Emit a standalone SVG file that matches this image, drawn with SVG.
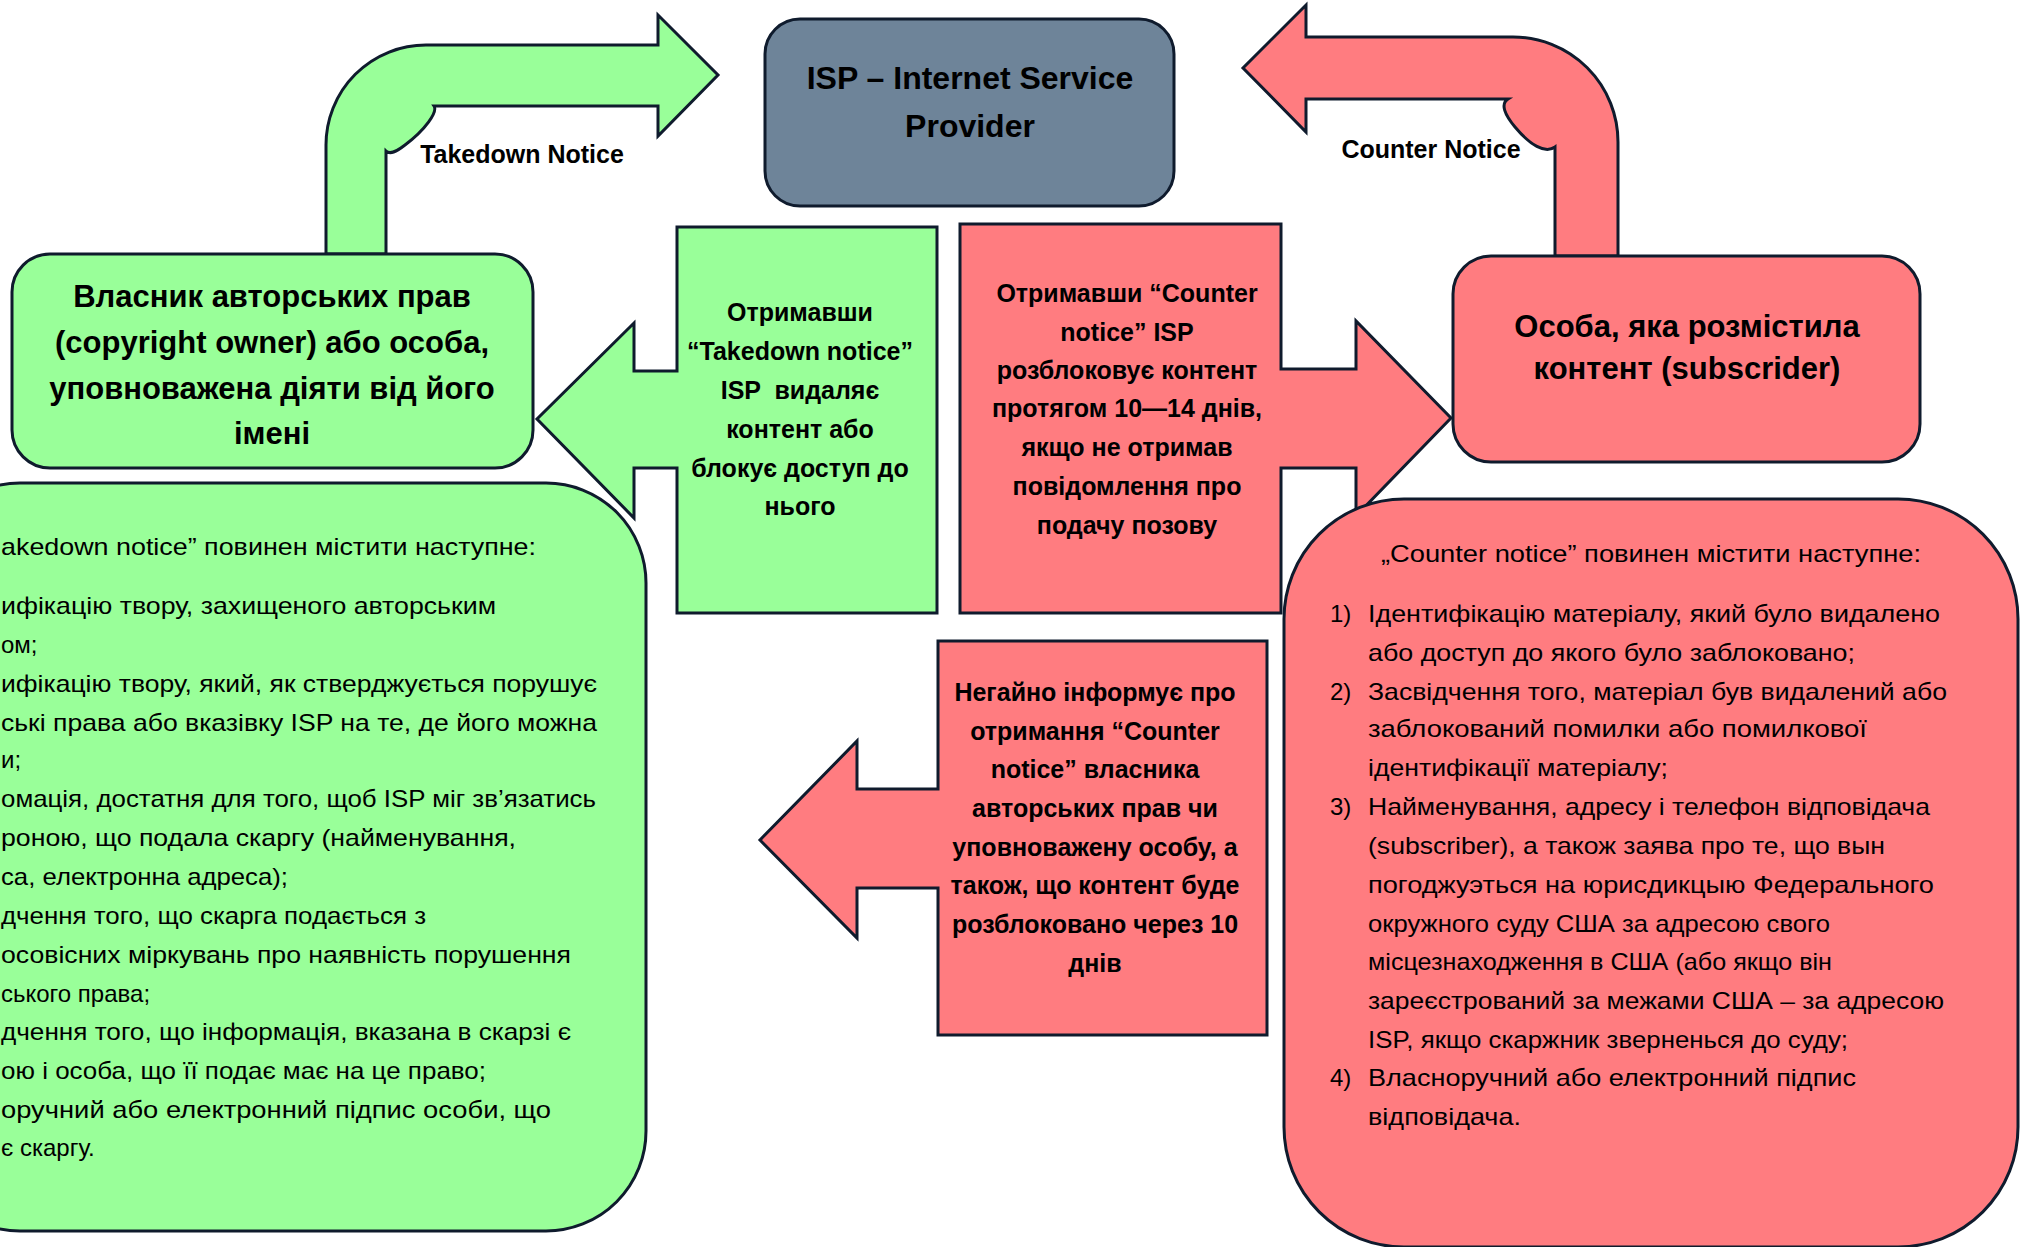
<svg xmlns="http://www.w3.org/2000/svg" width="2031" height="1247" viewBox="0 0 2031 1247">
<style>
.g{fill:#99FF99;stroke:#0f1b2d;stroke-width:3;stroke-linejoin:miter}
.r{fill:#FF7C80;stroke:#0f1b2d;stroke-width:3;stroke-linejoin:miter}
.s{fill:#6E8499;stroke:#0f1b2d;stroke-width:3}
text{font-family:"Liberation Sans",Arial,"DejaVu Sans",sans-serif;fill:#000}
.b{font-weight:bold;text-anchor:middle}
.b25{font-size:25px}
.b31{font-size:31px}
.t{font-size:24px}
</style>
<rect width="2031" height="1247" fill="#ffffff"/>

<g id="connectors">
<path id="takedown-arrow" class="g" d="M326,254 L326,145 A100,100 0 0 1 426,45 L658,45 L658,15 L718,75 L658,136 L658,106 L434,106 C438,112 425,130 405,145 C396,152 390,155 386,151 L386,254 Z"/>
<text class="b b25" x="522" y="163">Takedown Notice</text>
<path id="counter-arrow" class="r" d="M1555,256 L1555,147 C1545,154 1530,145 1515,127 C1505,115 1500,104 1508,99 L1306,99 L1306,132 L1243,68 L1306,5 L1306,37 L1513,37 A105,105 0 0 1 1618,142 L1618,256 Z"/>
<text class="b b25" x="1431" y="158">Counter Notice</text>
</g>

<g id="isp">
<rect class="s" x="765" y="19" width="409" height="187" rx="35"/>
<text class="b" font-size="32" x="970" y="89">ISP – Internet Service</text>
<text class="b" font-size="32" x="970" y="137">Provider</text>
</g>

<g id="owner">
<rect class="g" x="12" y="254" width="521" height="214" rx="38"/>
<text class="b b31" x="272" y="307">Власник авторських прав</text>
<text class="b b31" x="272" y="353">(copyright owner) або особа,</text>
<text class="b b31" x="272" y="399">уповноважена діяти від його</text>
<text class="b b31" x="272" y="444">імені</text>
</g>

<g id="takedown-requirements">
<rect class="g" x="-80" y="483" width="726" height="748" rx="100"/>
<text class="t" x="1" y="555" textLength="535" lengthAdjust="spacingAndGlyphs">akedown notice” повинен містити наступне:</text>
<text class="t" x="1" y="614" textLength="495" lengthAdjust="spacingAndGlyphs">ифікацію твору, захищеного авторським</text>
<text class="t" x="1" y="653">ом;</text>
<text class="t" x="1" y="692" textLength="596" lengthAdjust="spacingAndGlyphs">ифікацію твору, який, як стверджується порушує</text>
<text class="t" x="1" y="731" textLength="596" lengthAdjust="spacingAndGlyphs">ські права або вказівку ISP на те, де його можна</text>
<text class="t" x="1" y="768">и;</text>
<text class="t" x="1" y="807" textLength="595" lengthAdjust="spacingAndGlyphs">омація, достатня для того, щоб ISP міг зв’язатись</text>
<text class="t" x="1" y="846" textLength="515" lengthAdjust="spacingAndGlyphs">роною, що подала скаргу (найменування,</text>
<text class="t" x="1" y="885" textLength="287" lengthAdjust="spacingAndGlyphs">са, електронна адреса);</text>
<text class="t" x="1" y="924" textLength="425" lengthAdjust="spacingAndGlyphs">дчення того, що скарга подається з</text>
<text class="t" x="1" y="963" textLength="570" lengthAdjust="spacingAndGlyphs">осовісних міркувань про наявність порушення</text>
<text class="t" x="1" y="1002">ського права;</text>
<text class="t" x="1" y="1040" textLength="570" lengthAdjust="spacingAndGlyphs">дчення того, що інформація, вказана в скарзі є</text>
<text class="t" x="1" y="1079" textLength="485" lengthAdjust="spacingAndGlyphs">ою і особа, що її подає має на це право;</text>
<text class="t" x="1" y="1118" textLength="550" lengthAdjust="spacingAndGlyphs">оручний або електронний підпис особи, що</text>
<text class="t" x="1" y="1156">є скаргу.</text>
</g>

<g id="isp-removes">
<path class="g" d="M677,227 L937,227 L937,613 L677,613 L677,468 L634,468 L634,518 L537,419 L634,323 L634,371 L677,371 Z"/>
<text class="b b25" x="800" y="321">Отримавши</text>
<text class="b b25" x="800" y="360">“Takedown notice”</text>
<text class="b b25" x="800" y="399" xml:space="preserve">ISP  видаляє</text>
<text class="b b25" x="800" y="438">контент або</text>
<text class="b b25" x="800" y="477">блокує доступ до</text>
<text class="b b25" x="800" y="515">нього</text>
</g>

<g id="isp-restores">
<path class="r" d="M960,224 L1281,224 L1281,369 L1356,369 L1356,321 L1451,418 L1356,516 L1356,468 L1281,468 L1281,613 L960,613 Z"/>
<text class="b b25" x="1127" y="302">Отримавши “Counter</text>
<text class="b b25" x="1127" y="341">notice” ISP</text>
<text class="b b25" x="1127" y="379">розблоковує контент</text>
<text class="b b25" x="1127" y="417">протягом 10—14 днів,</text>
<text class="b b25" x="1127" y="456">якщо не отримав</text>
<text class="b b25" x="1127" y="495">повідомлення про</text>
<text class="b b25" x="1127" y="534">подачу позову</text>
</g>

<g id="subscriber">
<rect class="r" x="1453" y="256" width="467" height="206" rx="38"/>
<text class="b b31" x="1687" y="337">Особа, яка розмістила</text>
<text class="b b31" x="1687" y="379">контент (subscrider)</text>
</g>

<g id="counter-requirements">
<rect class="r" x="1284" y="499" width="734" height="748" rx="120"/>
<text class="t" x="1651" y="562" text-anchor="middle" textLength="540" lengthAdjust="spacingAndGlyphs">„Counter notice” повинен містити наступне:</text>
<text class="t" x="1330" y="622">1)</text>
<text class="t" x="1368" y="622" textLength="572" lengthAdjust="spacingAndGlyphs">Ідентифікацію матеріалу, який було видалено</text>
<text class="t" x="1368" y="661" textLength="487" lengthAdjust="spacingAndGlyphs">або доступ до якого було заблоковано;</text>
<text class="t" x="1330" y="700">2)</text>
<text class="t" x="1368" y="700" textLength="579" lengthAdjust="spacingAndGlyphs">Засвідчення того, матеріал був видалений або</text>
<text class="t" x="1368" y="737" textLength="499" lengthAdjust="spacingAndGlyphs">заблокований помилки або помилкової</text>
<text class="t" x="1368" y="776" textLength="300" lengthAdjust="spacingAndGlyphs">ідентифікації матеріалу;</text>
<text class="t" x="1330" y="815">3)</text>
<text class="t" x="1368" y="815" textLength="562" lengthAdjust="spacingAndGlyphs">Найменування, адресу і телефон відповідача</text>
<text class="t" x="1368" y="854" textLength="517" lengthAdjust="spacingAndGlyphs">(subscriber), а також заява про те, що вын</text>
<text class="t" x="1368" y="893" textLength="566" lengthAdjust="spacingAndGlyphs">погоджуэться на юрисдикцыю Федерального</text>
<text class="t" x="1368" y="932" textLength="462" lengthAdjust="spacingAndGlyphs">окружного суду США за адресою свого</text>
<text class="t" x="1368" y="970" textLength="464" lengthAdjust="spacingAndGlyphs">місцезнаходження в США (або якщо він</text>
<text class="t" x="1368" y="1009" textLength="576" lengthAdjust="spacingAndGlyphs">зареєстрований за межами США – за адресою</text>
<text class="t" x="1368" y="1048" textLength="480" lengthAdjust="spacingAndGlyphs">ISP, якщо скаржник зверненься до суду;</text>
<text class="t" x="1330" y="1086">4)</text>
<text class="t" x="1368" y="1086" textLength="488" lengthAdjust="spacingAndGlyphs">Власноручний або електронний підпис</text>
<text class="t" x="1368" y="1125" textLength="153" lengthAdjust="spacingAndGlyphs">відповідача.</text>
</g>

<g id="notify-owner">
<path class="r" d="M938,641 L1267,641 L1267,1035 L938,1035 L938,888 L857,888 L857,938 L760,840 L857,741 L857,789 L938,789 Z"/>
<text class="b b25" x="1095" y="701">Негайно інформує про</text>
<text class="b b25" x="1095" y="740">отримання “Counter</text>
<text class="b b25" x="1095" y="778">notice” власника</text>
<text class="b b25" x="1095" y="817">авторських прав чи</text>
<text class="b b25" x="1095" y="856">уповноважену особу, а</text>
<text class="b b25" x="1095" y="894">також, що контент буде</text>
<text class="b b25" x="1095" y="933">розблоковано через 10</text>
<text class="b b25" x="1095" y="972">днів</text>
</g>
</svg>
